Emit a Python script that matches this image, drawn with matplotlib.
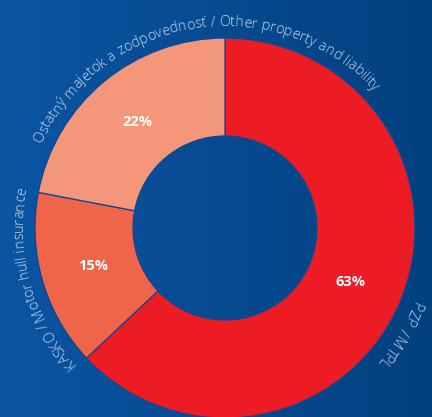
import numpy as np
import matplotlib
matplotlib.use("Agg")
import matplotlib.pyplot as plt
from matplotlib.colors import LinearSegmentedColormap
from matplotlib.font_manager import FontProperties

# ---- data ----
categories = ["PZP / MTPL", "KASKO / Motor hull insurance",
              "Ostatný majetok a zodpovednosť / Other property and liability"]
values = [63, 15, 22]
pct_labels = ["63%", "15%", "22%"]
colors = ["#ed1c24", "#f06449", "#f4967a"]

# ---- layout (pixels) ----
W, H = 432, 417
cx, cy = 225, H - 228
R_out, R_in = 190, 92
label_mid_angles = [-31.5, 195.5, 99.0]   # degrees, centre of each curved label
label_radius = 202

fig = plt.figure(figsize=(W / 100, H / 100), dpi=100)
ax = fig.add_axes([0, 0, 1, 1])

# gradient background
grad = np.linspace(0, 1, 256).reshape(1, -1)
cmap = LinearSegmentedColormap.from_list("bg", ["#0b55a3", "#03407f"])
ax.imshow(grad, extent=(0, W, 0, H), aspect="auto", cmap=cmap, zorder=0)

wedges, _ = ax.pie(values, colors=colors, startangle=90, counterclock=False,
                   center=(cx, cy), radius=R_out,
                   wedgeprops=dict(width=R_out - R_in, edgecolor="#0a4a92",
                                   linewidth=0.9),
                   frame=True)
for w in wedges:
    w.set_zorder(2)

# percentage labels
start = 90.0
mid_r = 137
for v, lab in zip(values, pct_labels):
    span = v / sum(values) * 360
    mid = np.deg2rad(start - span / 2)
    ax.text(cx + mid_r * np.cos(mid), cy + mid_r * np.sin(mid), lab,
            ha="center", va="center", color="white", fontsize=10.5,
            fontweight="bold", family="Open Sans", zorder=3)
    start -= span

ax.set_xlim(0, W)
ax.set_ylim(0, H)
ax.set_aspect("auto")
ax.axis("off")

# curved labels (text read clockwise, letter tops outward)
renderer = fig.canvas.get_renderer()
prop = FontProperties(family="Open Sans", weight="light", size=10.4)


def tw(s):
    if not s:
        return 0.0
    w, h, d = renderer.get_text_width_height_descent(s, prop, ismath=False)
    return w


for text, mid_ang in zip(categories, label_mid_angles):
    total = tw(text)
    total_ang = np.rad2deg(total / label_radius)
    a0 = mid_ang + total_ang / 2
    for i, ch in enumerate(text):
        if ch == " ":
            continue
        s_center = tw(text[:i + 1]) - tw(ch) / 2
        ang = a0 - np.rad2deg(s_center / label_radius)
        t = np.deg2rad(ang)
        ax.text(cx + label_radius * np.cos(t), cy + label_radius * np.sin(t), ch,
                rotation=ang - 90, rotation_mode="anchor", ha="center",
                va="baseline", fontproperties=prop, color="#c4d5ea", zorder=3)

fig.savefig("out.png", dpi=100)
